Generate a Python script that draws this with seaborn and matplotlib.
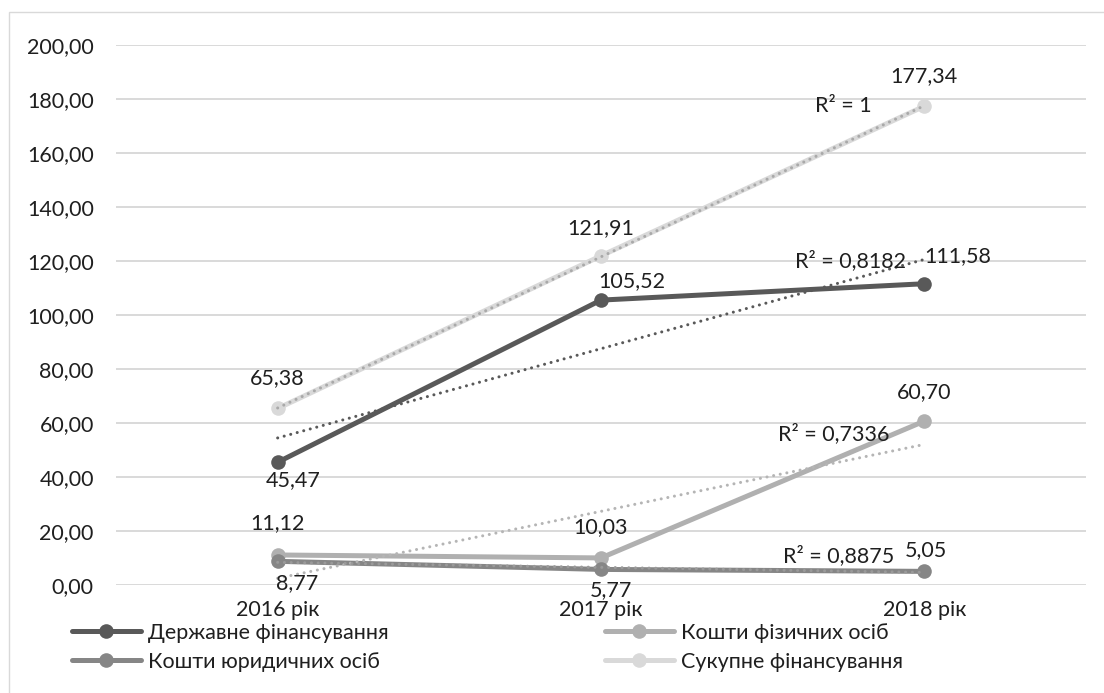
import numpy as np
import matplotlib
matplotlib.use("Agg")
import matplotlib.pyplot as plt
import matplotlib.patches as mpatches
import seaborn as sns

# --- data -------------------------------------------------------------
years = ["2016 рік", "2017 рік", "2018 рік"]
derzhavne = [45.47, 105.52, 111.58]
fizychni = [11.12, 10.03, 60.70]
yurydychni = [8.77, 5.77, 5.05]
sukupne = [65.38, 121.91, 177.34]
series_names = ["Державне фінансування", "Кошти фізичних осіб",
                "Кошти юридичних осіб", "Сукупне фінансування"]
r2_values = [0.8182, 0.7336, 0.8875, 1]
y_ticks = [0, 20, 40, 60, 80, 100, 120, 140, 160, 180, 200]

# --- styling ----------------------------------------------------------
sns.set_theme(style="white")
plt.rcParams["font.family"] = ["Lato", "DejaVu Sans"]
FS = 15.5
TXT = "#1f1f1f"

colors = dict(zip(series_names, ["#595959", "#b0b0b0", "#868686", "#d9d9d9"]))
trend_colors = dict(zip(series_names, ["#595959", "#b5b5b5", "#9a9a9a", "#a9a9a9"]))
values = dict(zip(series_names, [derzhavne, fizychni, yurydychni, sukupne]))
r2_map = dict(zip(series_names, r2_values))

# per-point label offsets (points) and R² label offsets relative to the trend end
label_offsets = {
    "Державне фінансування": [(11, -13), (22, 14), (24, 20)],
    "Кошти фізичних осіб": [(0, 23), (0, 22), (0, 21)],
    "Кошти юридичних осіб": [(14, -16), (7, -15), (1, 15)],
    "Сукупне фінансування": [(0, 22), (0, 20), (0, 22)],
}
r2_offsets = {
    "Державне фінансування": (-53, -1),
    "Кошти фізичних осіб": (-65, 8),
    "Кошти юридичних осіб": (-62, 12),
    "Сукупне фінансування": (-58, 0),
}

W, H = 1104, 693
fig = plt.figure(figsize=(W / 100, H / 100), dpi=100)
ax = fig.add_axes([116 / W, (H - 585) / H, (1086 - 116) / W, 540 / H])

xs = np.arange(len(years))

for name in series_names:
    sns.lineplot(x=xs, y=values[name], color=colors[name], marker="o",
                 markersize=10.5, markeredgewidth=0, linewidth=3.6,
                 label=name, ax=ax, zorder=3, solid_capstyle="round")

# linear trend lines with R²
for name in series_names:
    vals = np.array(values[name])
    sns.regplot(x=xs, y=vals, scatter=False, ci=None, truncate=True, ax=ax,
                line_kws=dict(color=trend_colors[name], linewidth=2.2,
                              linestyle=(0, (0.01, 2.2)),
                              dash_capstyle="round", zorder=4))
    slope, intercept = np.polyfit(xs, vals, 1)
    end_y = slope * xs[-1] + intercept
    r2_txt = f"{r2_map[name]:.4f}".rstrip("0").rstrip(".").replace(".", ",")
    ax.annotate(f"R² = {r2_txt}", xy=(xs[-1], end_y),
                xytext=r2_offsets[name], textcoords="offset points",
                ha="center", va="center", fontsize=FS, color=TXT, zorder=6)

# data labels
for name in series_names:
    for x, v, off in zip(xs, values[name], label_offsets[name]):
        ax.annotate(f"{v:.2f}".replace(".", ","), xy=(x, v), xytext=off,
                    textcoords="offset points", ha="center", va="center",
                    fontsize=FS, color=TXT, zorder=6)

# axes
ax.set_xlim(-0.5, 2.5)
ax.set_ylim(0, 200)
ax.set_yticks(y_ticks)
ax.set_yticklabels([f"{t:.2f}".replace(".", ",") for t in y_ticks])
ax.set_xticks(xs)
ax.set_xticklabels(years)
ax.tick_params(axis="y", length=0, pad=16, labelsize=FS, labelcolor=TXT)
ax.tick_params(axis="x", length=0, pad=11, labelsize=FS, labelcolor=TXT)
ax.grid(axis="y", color="#d9d9d9", linewidth=1.4)
ax.grid(axis="x", visible=False)
for s in ax.spines.values():
    s.set_visible(False)
ax.set_xlabel("")
ax.set_ylabel("")

# legend in two columns
handles, labels = ax.get_legend_handles_labels()
ax.get_legend().remove()
hmap = dict(zip(labels, handles))
leg_kw = dict(frameon=False, fontsize=FS, handlelength=3.2, handletextpad=0.35,
              labelspacing=0.4, borderaxespad=0, borderpad=0,
              labelcolor=TXT)
left_names = ["Державне фінансування", "Кошти юридичних осіб"]
right_names = ["Кошти фізичних осіб", "Сукупне фінансування"]
fig.legend([hmap[n] for n in left_names], left_names,
           loc="upper left", bbox_to_anchor=(72 / W, 1 - 623 / H), **leg_kw)
fig.legend([hmap[n] for n in right_names], right_names,
           loc="upper left", bbox_to_anchor=(605 / W, 1 - 623 / H), **leg_kw)

# chart frame
fig.patches.append(mpatches.Rectangle((9 / W, -0.05), 1.2, 1.05 - 12 / H,
                                      transform=fig.transFigure, fill=False,
                                      edgecolor="#d9d9d9", linewidth=1.0))

fig.savefig("out.png", dpi=100, facecolor="white")
